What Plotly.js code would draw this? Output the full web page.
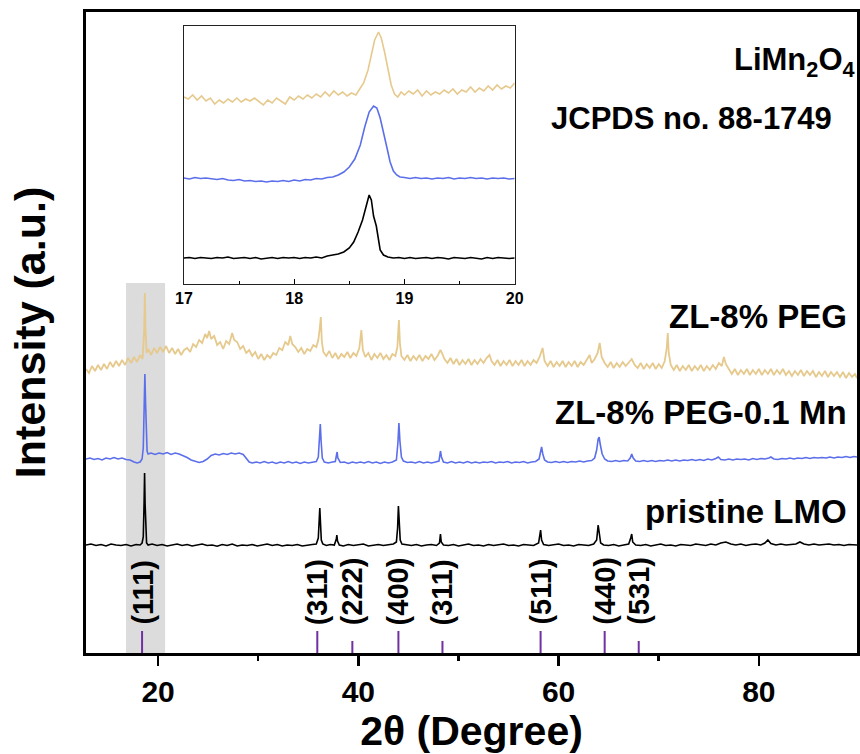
<!DOCTYPE html>
<html>
<head>
<meta charset="utf-8">
<script src="https://cdn.plot.ly/plotly-3.0.1.min.js"></script>
<style>html,body{margin:0;padding:0;background:#fff;}#chart{width:860px;height:754px;}</style>
</head>
<body>
<div id="chart"></div>
<script>
// ---------- DATA (2θ, intensity offset in a.u.) ----------
const pristineLMO = [[12.8,108],[13.3,109],[13.8,107.5],[14.3,108.5],[14.8,107],[15.3,109],[15.8,108],[16.3,107.5],[16.8,108.5],[17.3,107],[17.8,108.5],[18.2,108],[18.4,110],[18.52,116],[18.6,150],[18.65,180],[18.7,150],[18.76,118],[18.85,110],[19.0,108],[19.4,109],[19.9,107.5],[20.4,108.5],[20.9,107],[21.4,108],[21.9,109],[22.4,107.5],[22.9,108.5],[23.4,107],[23.9,108],[24.4,109],[24.9,107.5],[25.4,108],[25.9,106.8],[26.4,108.5],[26.9,107.5],[27.4,109],[27.9,107],[28.4,108],[28.9,107.5],[29.4,108.5],[29.9,107],[30.4,108],[30.9,109],[31.4,107.5],[31.9,108.5],[32.4,107],[32.9,108],[33.4,107.5],[33.9,108.5],[34.4,107],[34.9,108],[35.4,108.5],[35.8,109],[36.0,115],[36.1,135],[36.15,145],[36.22,130],[36.3,113],[36.45,109],[36.8,107.5],[37.2,108.5],[37.6,108],[37.8,114],[37.85,118],[37.92,112],[38.1,108],[38.5,107],[39.0,108.5],[39.5,107.5],[40.0,108],[40.5,109],[41.0,107],[41.5,108],[42.0,108.5],[42.5,107.5],[43.0,108],[43.5,109],[43.8,111],[43.92,125],[44.0,147],[44.08,130],[44.18,113],[44.35,109],[44.8,108],[45.3,107.5],[45.8,108.5],[46.3,107],[46.8,108],[47.3,108.5],[47.8,107.5],[48.1,110],[48.2,119],[48.28,111],[48.5,108],[49.0,107.5],[49.5,108.5],[50.0,107],[50.5,108],[51.0,109],[51.5,107.5],[52.0,108],[52.5,107],[53.0,108.5],[53.5,107.5],[54.0,108],[54.5,109],[55.0,107.5],[55.5,108],[56.0,107],[56.5,108.5],[57.0,108],[57.5,107.5],[58.0,110],[58.2,123],[58.3,113],[58.5,108.5],[59.0,107.5],[59.5,108],[60.0,109],[60.5,107.5],[61.0,108],[61.5,107],[62.0,108.5],[62.5,108],[63.0,107.5],[63.5,109],[63.8,113],[63.95,128],[64.05,118],[64.2,110],[64.5,108],[65.0,107.5],[65.5,108.5],[66.0,107],[66.5,108],[67.0,109],[67.2,115],[67.3,119],[67.4,111],[67.7,108],[68.2,107.5],[68.7,108.5],[69.2,107],[69.7,108],[70.2,109],[70.7,107.5],[71.2,108],[71.7,107],[72.2,108.5],[72.7,108],[73.2,107.5],[73.7,109],[74.2,108],[74.7,107.5],[75.2,109],[75.7,108],[76.2,110],[76.7,111],[77.2,109],[77.7,108],[78.2,109],[78.7,107.5],[79.2,108.5],[79.7,109],[80.2,108],[80.6,110],[80.9,113],[81.2,109.5],[81.7,108],[82.2,109],[82.7,108],[83.2,108.5],[83.7,109],[84.1,111],[84.5,109],[85.0,108],[85.5,109],[86.0,108],[86.5,108.5],[87.0,109],[87.5,108],[88.0,108.5],[88.5,107.5],[89.0,108.5],[89.8,108]];

const pegMn = [[12.8,194],[13.2,195],[13.6,193.5],[14.0,194.5],[14.4,193],[14.8,195],[15.2,194],[15.6,195.5],[16.0,194],[16.4,195],[16.8,193.5],[17.2,193],[17.6,191],[17.9,190],[18.2,191],[18.4,194],[18.52,205],[18.6,240],[18.68,279],[18.75,250],[18.82,215],[18.9,202],[19.0,199],[19.3,200],[19.7,198.5],[20.1,200],[20.5,199],[20.9,200.5],[21.3,198.5],[21.7,200],[22.1,199],[22.5,197.5],[22.9,195.5],[23.3,193],[23.7,191.5],[24.1,190.5],[24.5,191.5],[24.9,194],[25.3,197.5],[25.7,199],[26.1,198],[26.5,199.5],[26.9,198.5],[27.3,200],[27.7,199],[28.1,200],[28.5,198.5],[28.8,195],[29.1,191],[29.4,190],[29.8,191],[30.2,190],[30.6,191.5],[31.0,190],[31.4,191],[31.8,189.5],[32.2,191],[32.6,190],[33.0,191.5],[33.4,190],[33.8,191],[34.2,189.5],[34.6,191],[35.0,190],[35.4,191],[35.8,191.5],[36.0,196],[36.12,215],[36.2,229],[36.28,212],[36.4,195],[36.6,191],[37.0,190],[37.4,191],[37.7,191.5],[37.82,198],[37.88,201],[37.95,195],[38.2,190.5],[38.6,191],[39.0,189.5],[39.4,191],[39.8,190],[40.2,191],[40.6,190],[41.0,191.5],[41.4,190],[41.8,191],[42.2,189.5],[42.6,191],[43.0,190],[43.4,191],[43.8,193],[43.95,210],[44.05,230],[44.15,212],[44.3,196],[44.5,192],[44.9,190.5],[45.3,191],[45.7,190],[46.1,191.5],[46.5,190],[46.9,191],[47.3,190],[47.7,191],[48.05,192],[48.2,202],[48.3,196],[48.5,191],[48.9,190],[49.3,191.5],[49.7,190],[50.1,191],[50.5,190],[50.9,191.5],[51.3,190],[51.7,191],[52.1,190],[52.5,191],[52.9,190.5],[53.3,191.5],[53.7,190],[54.1,191],[54.5,190.5],[54.9,191.5],[55.3,190],[55.7,191],[56.1,190.5],[56.5,191.5],[56.9,190],[57.3,191],[57.7,191.5],[58.05,194],[58.2,203],[58.3,206],[58.42,199],[58.6,193],[58.9,191],[59.3,190.5],[59.7,191.5],[60.1,190.5],[60.5,191.5],[60.9,190.5],[61.3,191.5],[61.7,191],[62.1,192],[62.5,191],[62.9,192],[63.3,192.5],[63.6,195],[63.8,203],[63.95,214],[64.05,216],[64.15,209],[64.35,199],[64.6,194],[64.9,192],[65.3,191.5],[65.7,192.5],[66.1,191.5],[66.5,192.5],[66.9,192],[67.15,195],[67.3,199],[67.45,195],[67.7,192],[68.1,191.5],[68.5,192.5],[68.9,191.5],[69.3,192.5],[69.7,191.5],[70.1,192.5],[70.5,192],[70.9,193],[71.3,192],[71.7,193],[72.1,192],[72.5,193],[72.9,192.5],[73.3,193.5],[73.7,192.5],[74.1,193.5],[74.5,192.5],[74.9,194],[75.3,193],[75.7,194.5],[75.95,196],[76.2,193.5],[76.6,193],[77.0,194],[77.4,193],[77.8,194],[78.2,193.5],[78.6,194],[79.0,193],[79.4,194.5],[79.8,193.5],[80.2,194.5],[80.6,194],[81.0,195],[81.2,196],[81.5,194],[81.9,193.5],[82.3,194.5],[82.7,194],[83.1,195],[83.5,194],[83.9,195],[84.3,194.5],[84.7,195.5],[85.1,194.5],[85.5,195.5],[85.9,195],[86.3,195.5],[86.7,195],[87.1,196],[87.5,195],[87.9,196],[88.3,195.5],[88.7,196.5],[89.1,195.5],[89.5,196.5],[89.8,196]];

const peg = [[12.8,284],[13.1,280],[13.4,287],[13.7,282],[14.0,288],[14.3,283],[14.6,289],[14.9,284],[15.2,291],[15.5,286],[15.8,292],[16.1,287],[16.4,293],[16.7,288],[17.0,295],[17.3,290],[17.6,296],[17.9,291],[18.2,298],[18.45,294],[18.6,320],[18.68,360],[18.74,325],[18.85,300],[19.0,304],[19.3,298],[19.6,305],[19.9,300],[20.2,306],[20.5,301],[20.8,307],[21.1,300],[21.4,305],[21.7,299],[22.0,304],[22.3,298],[22.6,303],[22.9,305],[23.2,301],[23.5,309],[23.8,306],[24.1,313],[24.4,310],[24.7,319],[24.9,315],[25.1,322],[25.3,314],[25.6,317],[25.9,308],[26.2,311],[26.5,304],[26.8,312],[27.1,309],[27.4,320],[27.6,313],[27.9,311],[28.2,304],[28.5,307],[28.8,300],[29.1,303],[29.4,297],[29.7,301],[30.0,294],[30.3,299],[30.6,293],[30.9,298],[31.2,295],[31.5,300],[31.8,298],[32.1,305],[32.4,303],[32.7,311],[33.0,308],[33.2,317],[33.4,309],[33.7,306],[34.0,301],[34.3,305],[34.6,299],[34.9,304],[35.2,302],[35.5,308],[35.8,306],[36.0,313],[36.15,325],[36.25,336],[36.35,312],[36.5,301],[36.8,297],[37.1,302],[37.4,295],[37.7,300],[38.0,294],[38.3,299],[38.6,296],[38.9,301],[39.2,295],[39.5,300],[39.8,297],[40.1,305],[40.3,323],[40.45,303],[40.7,296],[41.0,300],[41.3,293],[41.6,299],[41.9,295],[42.2,300],[42.5,294],[42.8,298],[43.1,293],[43.4,299],[43.7,297],[43.9,306],[44.05,333],[44.15,310],[44.3,297],[44.6,293],[44.9,298],[45.2,292],[45.5,297],[45.8,293],[46.1,298],[46.4,292],[46.7,297],[47.0,294],[47.3,299],[47.6,293],[47.9,297],[48.2,303],[48.35,300],[48.6,294],[48.9,290],[49.2,295],[49.5,289],[49.8,294],[50.1,288],[50.4,293],[50.7,289],[51.0,294],[51.3,288],[51.6,293],[51.9,289],[52.2,294],[52.5,290],[52.8,295],[53.1,298],[53.3,292],[53.6,288],[53.9,293],[54.2,287],[54.5,292],[54.8,288],[55.1,293],[55.4,287],[55.7,292],[56.0,288],[56.3,293],[56.6,287],[56.9,292],[57.2,288],[57.5,293],[57.8,290],[58.1,296],[58.4,305],[58.6,292],[58.9,287],[59.2,292],[59.5,286],[59.8,291],[60.1,287],[60.4,292],[60.7,286],[61.0,291],[61.3,287],[61.6,292],[61.9,286],[62.2,291],[62.5,288],[62.8,293],[63.1,298],[63.3,290],[63.6,294],[63.9,300],[64.1,310],[64.3,296],[64.6,290],[64.9,286],[65.2,291],[65.5,285],[65.8,290],[66.1,286],[66.4,291],[66.7,287],[67.0,290],[67.3,294],[67.6,288],[67.9,285],[68.2,290],[68.5,284],[68.8,289],[69.1,285],[69.4,290],[69.7,284],[70.0,289],[70.3,285],[70.6,292],[70.8,305],[70.9,320],[71.0,300],[71.2,288],[71.5,283],[71.8,288],[72.1,282],[72.4,287],[72.7,283],[73.0,288],[73.3,282],[73.6,287],[73.9,283],[74.2,288],[74.5,282],[74.8,287],[75.1,283],[75.4,288],[75.7,284],[76.0,290],[76.3,287],[76.5,296],[76.7,289],[77.0,284],[77.3,279],[77.6,284],[77.9,278],[78.2,283],[78.5,279],[78.8,284],[79.1,278],[79.4,283],[79.7,279],[80.0,284],[80.3,278],[80.6,283],[80.9,279],[81.2,284],[81.5,278],[81.8,283],[82.1,279],[82.4,284],[82.7,278],[83.0,282],[83.3,277],[83.6,282],[83.9,278],[84.2,283],[84.5,277],[84.8,282],[85.1,278],[85.4,282],[85.7,276],[86.0,281],[86.3,277],[86.6,282],[86.9,276],[87.2,281],[87.5,277],[87.8,281],[88.1,276],[88.4,281],[88.7,275],[89.0,280],[89.3,276],[89.6,279],[89.8,275]];

// inset (17–20°)
const insetPEG = [[17.00,187],[17.04,185],[17.08,189],[17.12,184],[17.16,188],[17.20,183],[17.24,186],[17.28,180],[17.32,184],[17.36,181],[17.40,185],[17.44,182],[17.48,186],[17.52,182],[17.56,185],[17.60,183],[17.64,186],[17.68,182],[17.72,179],[17.76,184],[17.80,181],[17.84,186],[17.88,183],[17.92,180],[17.96,187],[18.00,184],[18.04,188],[18.08,185],[18.12,189],[18.16,186],[18.20,190],[18.24,187],[18.28,192],[18.32,188],[18.36,193],[18.40,189],[18.44,192],[18.48,188],[18.52,191],[18.56,189],[18.60,196],[18.63,201],[18.67,214],[18.70,230],[18.73,244],[18.765,252],[18.79,246],[18.82,232],[18.85,214],[18.88,199],[18.91,190],[18.94,187],[18.97,192],[19.00,189],[19.04,193],[19.08,190],[19.12,194],[19.16,188],[19.20,193],[19.24,189],[19.28,192],[19.32,190],[19.36,194],[19.40,191],[19.44,195],[19.48,190],[19.52,194],[19.56,192],[19.60,197],[19.64,192],[19.68,196],[19.72,193],[19.76,198],[19.80,194],[19.84,199],[19.88,195],[19.92,198],[19.96,196],[20.00,201]];
const insetPEGMn = [[17.00,106],[17.05,105],[17.10,106.5],[17.15,105.5],[17.20,106],[17.25,105],[17.30,104.5],[17.35,105.5],[17.40,104],[17.45,103.5],[17.50,104.5],[17.55,103],[17.60,103.5],[17.65,102.5],[17.70,103],[17.75,102],[17.80,103],[17.85,102.5],[17.90,103.5],[17.95,102.5],[18.00,104],[18.05,103],[18.10,104.5],[18.15,104],[18.20,105.5],[18.25,105],[18.30,106.5],[18.35,107],[18.40,109],[18.45,112],[18.50,117],[18.55,125],[18.60,139],[18.64,157],[18.68,172],[18.72,178],[18.75,176],[18.78,166],[18.81,153],[18.84,137],[18.87,122],[18.90,113],[18.93,109],[18.96,107],[19.00,106.5],[19.05,105.5],[19.10,106.5],[19.15,105.5],[19.20,106],[19.25,105],[19.30,106],[19.35,105.5],[19.40,106.5],[19.45,105],[19.50,106],[19.55,105.5],[19.60,106.5],[19.65,105.5],[19.70,106],[19.75,105],[19.80,106],[19.85,105.5],[19.90,106],[19.95,105],[20.00,105.5]];
const insetLMO = [[17.00,26],[17.05,26.5],[17.10,25.5],[17.15,26.5],[17.20,26],[17.25,25.5],[17.30,26.5],[17.35,26],[17.40,27],[17.45,25.5],[17.50,26],[17.55,26.5],[17.60,25.5],[17.65,26.5],[17.70,25],[17.75,26],[17.80,26.5],[17.85,25.5],[17.90,26.5],[17.95,26],[18.00,26.5],[18.05,25.5],[18.10,26.5],[18.15,26],[18.20,27],[18.25,26],[18.30,28],[18.35,29],[18.40,30],[18.45,32],[18.50,36],[18.54,42],[18.58,52],[18.62,64],[18.66,82],[18.68,89],[18.70,84],[18.72,68],[18.745,58],[18.765,45],[18.78,34],[18.81,29],[18.85,27],[18.90,26],[18.95,26.5],[19.00,25.5],[19.05,26.5],[19.10,25.5],[19.15,26],[19.20,26.5],[19.25,25.5],[19.30,26.5],[19.35,26],[19.40,25],[19.45,26.5],[19.50,26],[19.55,25.5],[19.60,26.5],[19.65,26],[19.70,25],[19.75,26.5],[19.80,25.5],[19.85,26.5],[19.90,26],[19.95,25.5],[20.00,26]];

// JCPDS 88-1749 reference lines
const refPos = [18.4, 35.9, 39.4, 44.0, 48.4, 58.2, 64.6, 68.0];
const refHeight = [22, 22, 12, 22, 12, 22, 22, 12];
const refLabels = ['(111)', '(311)', '(222)', '(400)', '(311)', '(511)', '(440)', '(531)'];

const seriesNames = ['ZL-8% PEG', 'ZL-8% PEG-0.1 Mn', 'pristine LMO'];
const seriesColors = ['#E6C98D', '#5C6FEA', '#000000'];

// ---------- BUILD ----------
const X = a => a.map(p => p[0]);
const Y = a => a.map(p => p[1]);
const F = 'Liberation Sans, Arial, sans-serif';

const refX = [], refY = [];
refPos.forEach((p, i) => { refX.push(p, p, null); refY.push(0, refHeight[i], null); });

const traces = [
  {x: X(peg), y: Y(peg), mode: 'lines', line: {color: seriesColors[0], width: 1.8}, name: seriesNames[0]},
  {x: X(pegMn), y: Y(pegMn), mode: 'lines', line: {color: seriesColors[1], width: 1.6}, name: seriesNames[1]},
  {x: X(pristineLMO), y: Y(pristineLMO), mode: 'lines', line: {color: seriesColors[2], width: 1.6}, name: seriesNames[2]},
  {x: refX, y: refY, mode: 'lines', line: {color: '#7030A0', width: 2}, name: 'JCPDS'},
  {x: X(insetPEG), y: Y(insetPEG), xaxis: 'x2', yaxis: 'y2', mode: 'lines', line: {color: seriesColors[0], width: 1.6}},
  {x: X(insetPEGMn), y: Y(insetPEGMn), xaxis: 'x2', yaxis: 'y2', mode: 'lines', line: {color: seriesColors[1], width: 1.6}},
  {x: X(insetLMO), y: Y(insetLMO), xaxis: 'x2', yaxis: 'y2', mode: 'lines', line: {color: seriesColors[2], width: 1.6}}
];

const annotations = refLabels.map((t, i) => ({
  x: refPos[i], y: 26, xref: 'x', yref: 'y', text: t, textangle: -90, showarrow: false,
  xanchor: 'center', yanchor: 'bottom', font: {family: F, size: 29, color: '#000', weight: 'bold'}
}));
const H = 641, T = 12;
const py = p => (H + T - p) / H;
const txt = (text, y, size, x) => ({x: x, y: py(y), xref: 'paper', yref: 'paper', text: text, showarrow: false,
  xanchor: 'right', yanchor: 'middle', font: {family: F, size: size, color: '#000', weight: 'bold'}});
annotations.push(txt('LiMn<sub>2</sub>O<sub>4</sub>', 62, 31, 1));
annotations.push(txt('JCPDS no. 88-1749', 118, 31, 0.97));
annotations.push(txt(seriesNames[0], 316, 33, 0.99));
annotations.push(txt(seriesNames[1], 412, 33, 0.99));
annotations.push(txt(seriesNames[2], 511, 33, 0.99));

const layout = {
  width: 860, height: 754,
  margin: {l: 86, r: 3, t: 12, b: 101},
  paper_bgcolor: '#fff', plot_bgcolor: '#fff',
  showlegend: false,
  font: {family: F, color: '#000'},
  xaxis: {
    range: [12.8, 89.8], tickvals: [20, 40, 60, 80], ticks: 'outside', ticklen: 10, tickwidth: 2.5,
    tickcolor: '#000', showline: true, linewidth: 3, linecolor: '#000', mirror: true,
    showgrid: false, zeroline: false,
    minor: {tickvals: [30, 50, 70], ticks: 'outside', ticklen: 5, tickwidth: 2.5, tickcolor: '#000', showgrid: false},
    tickfont: {family: F, size: 30, weight: 'bold'},
    title: {text: '2θ (Degree)', font: {family: F, size: 41, weight: 'bold'}, standoff: 4}
  },
  yaxis: {
    range: [0, 641], showticklabels: false, ticks: '', showline: true, linewidth: 3, linecolor: '#000',
    mirror: true, showgrid: false, zeroline: false,
    title: {text: 'Intensity (a.u.)', font: {family: F, size: 43, weight: 'bold'}, standoff: 24}
  },
  xaxis2: {
    domain: [0.127, 0.556], anchor: 'y2', range: [17, 20], tickvals: [17, 18, 19, 20], ticks: 'inside',
    ticklen: 5, tickwidth: 1, tickcolor: '#000', showline: true, linewidth: 1.2, linecolor: '#222', mirror: true,
    showgrid: false, zeroline: false,
    minor: {tickvals: [17.5, 18.5, 19.5], ticks: 'inside', ticklen: 3, tickwidth: 1, tickcolor: '#000', showgrid: false},
    tickfont: {family: F, size: 16, weight: 'bold'}
  },
  yaxis2: {
    domain: [py(284), py(26)], anchor: 'x2', range: [0, 258], showticklabels: false, ticks: '',
    showline: true, linewidth: 1.2, linecolor: '#222', mirror: true, showgrid: false, zeroline: false
  },
  shapes: [{type: 'rect', xref: 'x', yref: 'y', x0: 16.8, x1: 20.7, y0: 0, y1: 370,
            fillcolor: '#DCDCDC', line: {width: 0}, layer: 'below'}],
  annotations: annotations
};

Plotly.newPlot('chart', traces, layout, {displayModeBar: false, staticPlot: true});
</script>
</body>
</html>
